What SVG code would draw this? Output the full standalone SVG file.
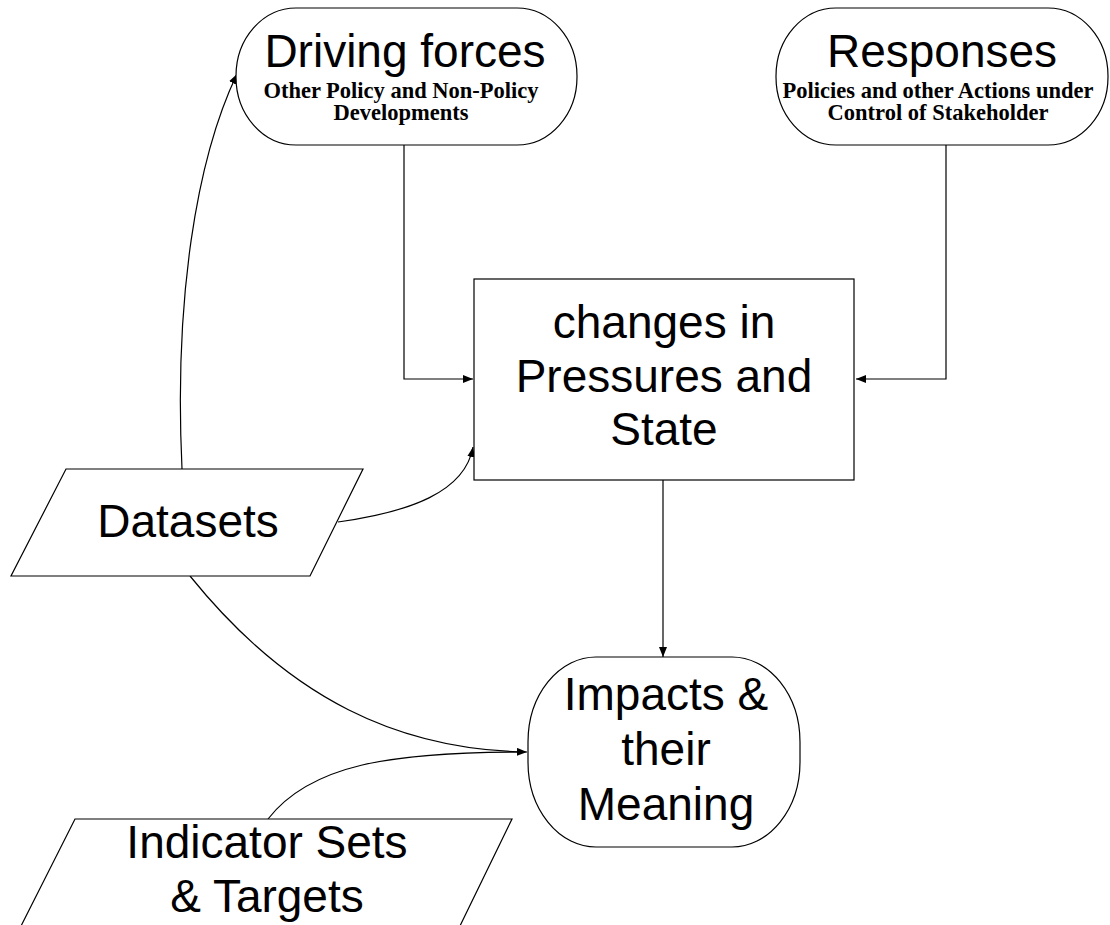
<svg xmlns="http://www.w3.org/2000/svg" width="1110" height="925" viewBox="0 0 1110 925">
<defs>
<marker id="arr" viewBox="0 0 10 8" refX="10" refY="4" markerWidth="10" markerHeight="8" markerUnits="userSpaceOnUse" orient="auto">
<path d="M0,0 L10,4 L0,8 Z" fill="#000"/>
</marker>
<style>
.shape{fill:#fff;stroke:#000;stroke-width:1.2}
.big{font-family:"Liberation Sans",Arial,sans-serif;font-size:46px;fill:#000;text-anchor:middle}
.sub{font-family:"Liberation Serif","Times New Roman",serif;font-weight:bold;font-size:22.5px;fill:#000;text-anchor:middle}
.conn{fill:none;stroke:#000;stroke-width:1.2}
</style>
</defs>
<rect width="1110" height="925" fill="#fff"/>
<g id="connectors">
<path class="conn" d="M404,145 L404,379 L473,379" marker-end="url(#arr)"/>
<path class="conn" d="M946,145 L946,379 L856,379" marker-end="url(#arr)"/>
<path class="conn" d="M663,480 L663,657" marker-end="url(#arr)"/>
<path class="conn" d="M182,469 C174,300 196,160 237,74" marker-end="url(#arr)"/>
<path class="conn" d="M338,522 C410,512 465,492 473,447" marker-end="url(#arr)"/>
<path class="conn" d="M190,576 C290,700 400,750 527,752" marker-end="url(#arr)"/>
<path class="conn" d="M268,819 C310,765 390,752 522,752"/>
</g>
<g id="driving-forces">
<rect class="shape" x="236" y="8" width="341" height="137" rx="60" ry="68"/>
<text class="big" x="405" y="67">Driving forces</text>
<text class="sub" x="401" y="98">Other Policy and Non-Policy</text>
<text class="sub" x="401" y="120">Developments</text>
</g>
<g id="responses">
<rect class="shape" x="776" y="8" width="332" height="137" rx="60" ry="68"/>
<text class="big" x="942" y="67">Responses</text>
<text class="sub" x="938" y="98">Policies and other Actions under</text>
<text class="sub" x="938" y="120">Control of Stakeholder</text>
</g>
<g id="pressures-state">
<rect class="shape" x="474" y="279" width="380" height="201"/>
<text class="big" x="664" y="338">changes in</text>
<text class="big" x="664" y="392">Pressures and</text>
<text class="big" x="664" y="445">State</text>
</g>
<g id="impacts">
<rect class="shape" x="528" y="657" width="272" height="190" rx="68" ry="85"/>
<text class="big" x="666" y="710">Impacts &amp;</text>
<text class="big" x="666" y="765">their</text>
<text class="big" x="666" y="820">Meaning</text>
</g>
<g id="datasets">
<polygon class="shape" points="66,469 363,469 310,576 11,576"/>
<text class="big" x="188" y="537">Datasets</text>
</g>
<g id="indicator-sets">
<polygon class="shape" points="75,819 512,819 458,930 19,930"/>
<text class="big" x="267" y="858">Indicator Sets</text>
<text class="big" x="267" y="912">&amp; Targets</text>
</g>
</svg>
